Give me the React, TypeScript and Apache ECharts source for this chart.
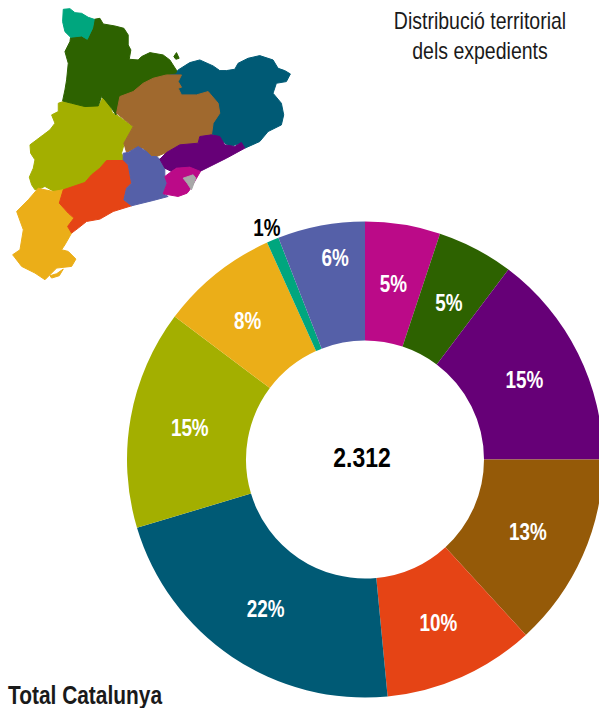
import React, { useEffect, useRef } from "react";
import * as echarts from "echarts";

const regionNames = ["Barcelona", "Alt Pirineu", "Maresme-Vallès", "Catalunya Central", "Camp de Tarragona", "Girona", "Lleida", "Terres de l'Ebre", "Val d'Aran", "Penedès"];
const regionValues = [118, 120, 340, 305, 238, 506, 344, 185, 19, 137];
const regionLabels = ["5%", "5%", "15%", "13%", "10%", "22%", "15%", "8%", "1%", "6%"];
const regionColors = ["#BB0A88", "#2D6200", "#660077", "#955A08", "#E54415", "#005A75", "#A3AF00", "#EBAE18", "#00A67E", "#5560A8"];
const totalLabel = "2.312";
const titleLines = ["Distribució territorial", "dels expedients"];
const footerLabel = "Total Catalunya";

const FONT = '"Liberation Sans", Arial, sans-serif';
const CENTER = [365, 459.5];
const RADIUS = [119, 238];
const NARROW = 0.82;

// Map outlines, in 3x picture units, painted in this order so inner borders overlap
const mapShapes: { fill: string; pts: number[][] }[] = [
  { fill: "#A3AF00", pts: [[190,305],[215,310],[260,320],[298,315],[310,290],[330,315],[338,340],[350,345],[400,380],[375,425],[365,460],[375,482],[375,520],[320,520],[260,575],[190,590],[135,560],[120,566],[105,570],[95,555],[88,532],[100,505],[105,480],[92,460],[90,435],[110,420],[130,405],[150,390],[165,370],[155,345],[175,335],[175,310]] },
  { fill: "#2D6200", pts: [[283,58],[300,55],[310,72],[345,78],[372,85],[385,105],[385,135],[393,150],[388,178],[415,180],[425,170],[450,158],[490,165],[510,180],[528,208],[540,222],[540,260],[420,320],[363,320],[348,345],[335,325],[315,300],[305,290],[295,318],[255,320],[215,310],[188,303],[195,270],[200,240],[205,190],[195,155],[210,125],[212,112],[245,108],[262,118],[278,85]] },
  { fill: "#2D6200", pts: [[522,170],[530,158],[538,175],[528,178]] },
  { fill: "#005A75", pts: [[535,210],[570,188],[600,180],[640,198],[660,212],[680,212],[705,208],[715,190],[745,175],[780,167],[820,180],[835,205],[855,212],[872,222],[860,245],[830,250],[820,280],[845,310],[852,345],[845,375],[805,395],[780,425],[735,445],[725,430],[690,440],[640,405],[610,405],[510,350],[510,225],[530,222]] },
  { fill: "#A0692E", pts: [[545,225],[535,245],[545,262],[535,265],[545,285],[590,285],[625,275],[655,310],[660,340],[640,370],[635,405],[600,410],[595,430],[540,435],[500,458],[470,470],[455,470],[430,445],[405,445],[380,458],[372,430],[400,380],[350,340],[360,290],[400,275],[430,250],[460,235],[500,225]] },
  { fill: "#00A67E", pts: [[190,28],[210,26],[225,38],[245,40],[265,52],[283,58],[278,85],[262,118],[245,108],[212,112],[195,95],[188,65]] },
  { fill: "#EBAE18", pts: [[115,565],[135,570],[160,575],[190,570],[178,610],[205,640],[222,655],[203,680],[215,700],[195,735],[185,750],[205,755],[228,778],[215,800],[170,805],[135,840],[105,820],[65,800],[38,765],[60,750],[70,690],[50,635],[85,600]] },
  { fill: "#EBAE18", pts: [[150,828],[170,822],[190,808],[178,828],[155,835]] },
  { fill: "#E54415", pts: [[320,482],[375,482],[385,495],[395,550],[380,565],[372,600],[395,618],[340,635],[300,658],[260,665],[235,685],[215,700],[203,680],[222,655],[205,640],[178,610],[190,570],[255,548],[275,525],[300,505]] },
  { fill: "#5560A8", pts: [[370,460],[385,458],[415,440],[440,455],[455,470],[470,470],[480,478],[495,505],[495,530],[502,550],[490,582],[505,590],[460,602],[395,618],[372,600],[380,565],[395,550],[385,495],[370,480]] },
  { fill: "#660077", pts: [[635,405],[660,410],[675,435],[705,440],[725,428],[735,445],[680,475],[600,515],[570,502],[530,505],[515,515],[495,505],[480,478],[500,458],[540,435],[595,430],[600,410]] },
  { fill: "#BB0A88", pts: [[515,515],[530,505],[570,502],[602,515],[570,570],[562,580],[535,590],[490,582],[502,550],[495,530]] },
  { fill: "#A8A8A8", pts: [[550,535],[580,525],[588,535],[575,570],[562,550]] },
];

// Labels that sit away from the middle of their slice
const labelShift: Record<number, { dx: number; dy: number }> = {
  1: { dx: 1, dy: 1 },
  3: { dx: 0, dy: 1 },
  4: { dx: 1, dy: 1 },
  5: { dx: 0, dy: 2 },
  7: { dx: -6, dy: 0 },
  8: { dx: -29, dy: -68 },
  9: { dx: 3, dy: -27 },
};

const narrowText = (text: string, x: number, y: number, font: string, fill: string, align = "center") => ({
  type: "text",
  x,
  y,
  scaleX: NARROW,
  silent: true,
  z: 10,
  style: { text, fill, font, align, verticalAlign: "middle" },
});

// Slice labels follow the slice's mid angle, so they come from the values
const total = regionValues.reduce((a, b) => a + b, 0);
let running = 0;
const sliceLabels = regionValues.map((v, i) => {
  const mid = ((running + v / 2) / total) * Math.PI * 2;
  running += v;
  const r = 178;
  const shift = labelShift[i] ?? { dx: 0, dy: 0 };
  return narrowText(
    regionLabels[i],
    CENTER[0] + r * Math.sin(mid) + shift.dx,
    CENTER[1] - r * Math.cos(mid) + shift.dy,
    `bold 23px ${FONT}`,
    i === 8 ? "#000000" : "#ffffff"
  );
});

export default function App() {
  const ref = useRef<HTMLDivElement>(null);
  useEffect(() => {
    document.body.style.margin = "0";
    const chart = echarts.init(ref.current!, null, { renderer: "svg" });
    chart.setOption({
      animation: false,
      backgroundColor: "#ffffff",
      textStyle: { fontFamily: FONT },
      graphic: [
        {
          type: "group",
          scaleX: 1 / 3,
          scaleY: 1 / 3,
          children: mapShapes.map((s) => ({
            type: "polygon",
            shape: { points: s.pts },
            style: { fill: s.fill, stroke: s.fill, lineWidth: 3, lineJoin: "round" },
            silent: true,
          })),
        },
        narrowText(titleLines[0], 480, 21, `23.8px ${FONT}`, "#1a1a1a"),
        narrowText(titleLines[1], 480, 51, `23.8px ${FONT}`, "#1a1a1a"),
        narrowText(totalLabel, 362, 457, `bold 28px ${FONT}`, "#000000"),
        narrowText(footerLabel, 8, 695, `bold 25.5px ${FONT}`, "#1a1a1a", "left"),
        ...sliceLabels,
      ],
      series: [
        {
          type: "pie",
          center: CENTER,
          radius: RADIUS,
          startAngle: 90,
          clockwise: true,
          silent: true,
          label: { show: false },
          labelLine: { show: false },
          data: regionNames.map((name, i) => ({
            name,
            value: regionValues[i],
            itemStyle: { color: regionColors[i] },
          })),
        },
      ],
    });
    return () => chart.dispose();
  }, []);
  return <div ref={ref} style={{ width: 599, height: 708 }} />;
}
